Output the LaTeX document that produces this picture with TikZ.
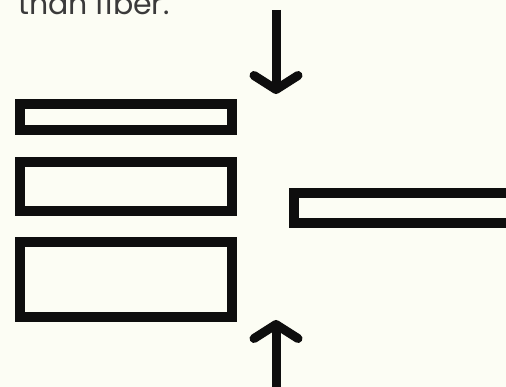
\documentclass[tikz,border=0pt]{standalone}
\usepackage{fontspec}
\setmainfont{Poppins}
\usetikzlibrary{positioning}
\usetikzlibrary{arrows.meta}
\definecolor{paper}{HTML}{FCFDF4}
\definecolor{ink}{HTML}{0E0E0E}
\definecolor{caption}{HTML}{3A3A3A}
\tikzset{
  % A stacked layer drawn as a heavy outlined bar
  slab/.style={
    draw=ink, line width=10pt, fill=paper, rectangle,
    inner sep=0pt, minimum width=212pt, minimum height=#1},
  % Pressing force
  push/.style={draw=ink, line width=9pt,
    -{Straight Barb[length=14pt, width=44pt, line width=9pt, round]}},
  note/.style={font=\fontsize{30}{30}\selectfont, text=caption,
    inner sep=0pt, anchor=base west},
}

\begin{document}
\begin{tikzpicture}[x=1pt, y=-1pt, node distance=22pt]

  \useasboundingbox (0,0) rectangle (506,387);
  \fill[paper] (0,0) rectangle (506,387);
  \clip (0,0) rectangle (506,387);

  % --- Caption (cut off at the top) -----------------------------------
  \node[note] (cap) at (18,15) {than fiber.};

  % --- Stacked layers ---------------------------------------------------
  \node[slab=26.5pt] (layerA) at (126,117) {};
  \node[slab=49pt, below=of layerA] (layerB) {};
  \node[slab=75pt, below=21pt of layerB] (layerC) {};

  % --- Thin sheet on the right ----------------------------------------
  \node[slab=30pt, minimum width=320pt, anchor=west] (sheet) at (289,208) {};

  % --- Forces -----------------------------------------------------------
  \coordinate (topfrom) at (276,10);
  \coordinate (topto)   at (276,94);
  \coordinate (botfrom) at (276,400);
  \coordinate (botto)   at (276,320);
  \draw[push] (topfrom) -- (topto);
  \draw[push] (botfrom) -- (botto);

\end{tikzpicture}
\end{document}
